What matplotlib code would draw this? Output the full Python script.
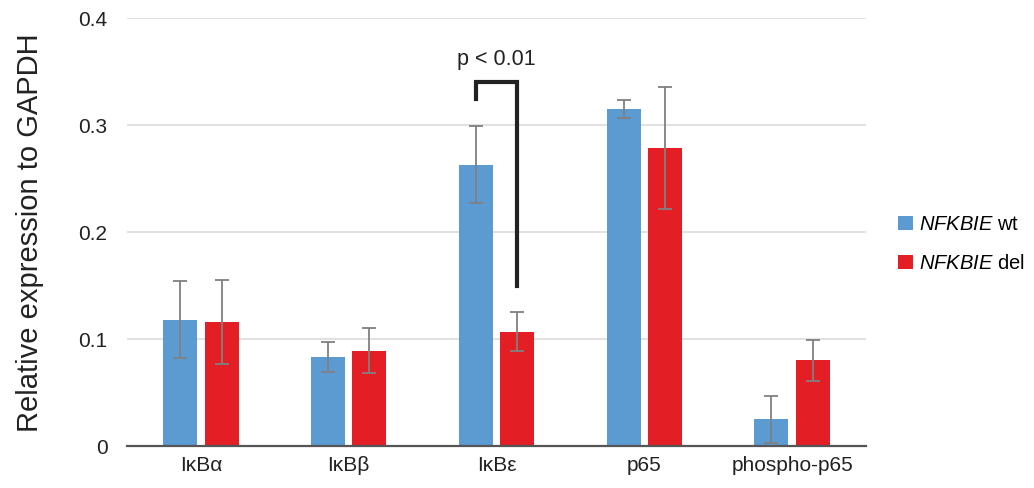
import matplotlib
matplotlib.use("Agg")
import matplotlib.pyplot as plt
import numpy as np
from matplotlib.patches import Patch

plt.rcParams['font.family'] = ['Liberation Sans', 'DejaVu Sans']
plt.rcParams['mathtext.fontset'] = 'custom'
plt.rcParams['mathtext.it'] = 'Liberation Sans:italic'
plt.rcParams['mathtext.rm'] = 'Liberation Sans'

categories = ['IκBα', 'IκBβ', 'IκBε', 'p65', 'phospho-p65']
wt_mean = [0.118, 0.083, 0.263, 0.315, 0.025]
wt_err = [0.036, 0.014, 0.036, 0.008, 0.022]
del_mean = [0.116, 0.089, 0.107, 0.279, 0.080]
del_err = [0.039, 0.021, 0.018, 0.057, 0.019]
series_labels = [r'$\mathit{NFKBIE}$ wt', r'$\mathit{NFKBIE}$ del']
yticks = [0, 0.1, 0.2, 0.3, 0.4]
ytick_labels = ['0', '0.1', '0.2', '0.3', '0.4']

blue = '#5B9BD1'
red = '#E31E24'
err_col = '#808080'
text_col = '#222222'

fig = plt.figure(figsize=(10.34, 4.88), dpi=100)
ax = fig.add_axes([0.1228, 0.086, 0.7147, 0.877])

x = np.arange(len(categories))
w = 0.23
off = 0.14
ekw = dict(ecolor=err_col, elinewidth=1.3, capsize=4.8, capthick=1.3)
ax.bar(x - off, wt_mean, w, color=blue, yerr=wt_err, error_kw=ekw, zorder=3)
ax.bar(x + off, del_mean, w, color=red, yerr=del_err, error_kw=ekw, zorder=3)

ax.set_xlim(-0.5, len(categories) - 0.5)
ax.set_ylim(0, 0.4)
ax.set_yticks(yticks)
ax.set_yticklabels(ytick_labels)
ax.set_xticks(x)
ax.set_xticklabels(categories)
ax.tick_params(axis='both', length=0, labelsize=15, colors=text_col)
ax.tick_params(axis='y', pad=14)
ax.tick_params(axis='x', pad=7)
ax.yaxis.grid(True, color='#dcdcdc', linewidth=1.2, zorder=0)
ax.set_axisbelow(True)
for s in ['top', 'right', 'left']:
    ax.spines[s].set_visible(False)
ax.spines['bottom'].set_color('#555555')
ax.spines['bottom'].set_linewidth(1.6)
ax.spines['bottom'].set_zorder(4)

fig.text(30 / 1034, 0.524, 'Relative expression to GAPDH', rotation=90,
         ha='center', va='center', fontsize=21, color=text_col)

# significance bracket between IκBε bars
i = 2
yl = wt_mean[i] + wt_err[i] + 0.025
yr = del_mean[i] + del_err[i] + 0.025
ytop = 0.340
ax.plot([i - off, i - off, i + off, i + off], [yl, ytop, ytop, yr],
        color=text_col, linewidth=3, solid_joinstyle='miter', zorder=5, clip_on=False)
ax.text(i, 0.361, 'p < 0.01', ha='center', va='center', fontsize=15.5, color=text_col)

handles = [Patch(facecolor=blue), Patch(facecolor=red)]
fig.legend(handles, series_labels, loc='center left', bbox_to_anchor=(0.851, 0.5),
           frameon=False, fontsize=14.5, handlelength=0.72, handleheight=0.72,
           handletextpad=0.3, labelspacing=1.0)

fig.savefig('out.png', dpi=100)
